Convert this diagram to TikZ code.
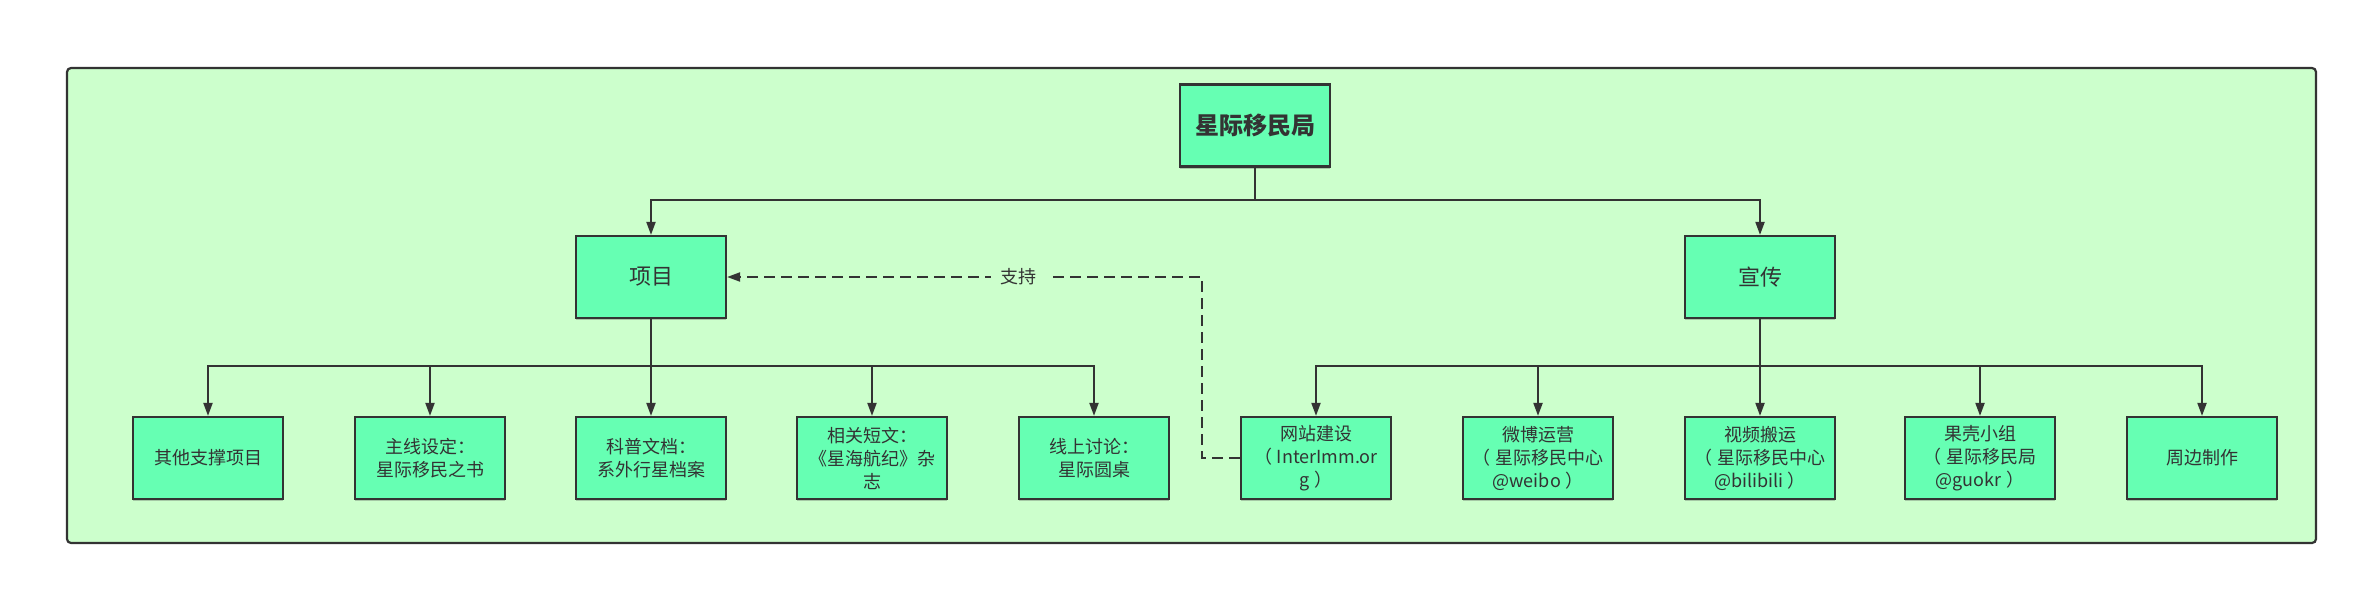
\documentclass[tikz,border=0pt]{standalone}
\usepackage{fontspec}
\setmainfont{Noto Sans CJK SC}
\usetikzlibrary{arrows.meta,shadows,calc}
\definecolor{boxfill}{HTML}{66FFB3}
\definecolor{framefill}{HTML}{CCFFCC}
\definecolor{ink}{HTML}{333333}
\newcommand{\lp}{（\hspace{0.25em}}
\newcommand{\rp}{\hspace{0.25em}）}
\begin{document}
\begin{tikzpicture}[x=1pt,y=-1pt,
  box/.style={draw=ink,fill=boxfill,line width=2.2pt,minimum width=150pt,minimum height=82pt,
    inner sep=2pt,align=center,text=ink,font=\fontsize{18}{23}\selectfont,
    drop shadow={shadow xshift=0pt,shadow yshift=-2pt,opacity=0.3,fill=black!70}},
  midbox/.style={box,font=\fontsize{22}{26}\selectfont},
  topbox/.style={box,font=\fontsize{24}{28}\selectfont\bfseries},
  conn/.style={draw=ink,line width=2pt},
  arr/.style={conn,-{Triangle[length=13pt,width=9pt]}},
  dsh/.style={arr,dash pattern=on 11pt off 6pt},
  lbl/.style={fill=framefill,text=ink,font=\fontsize{18}{22}\selectfont,inner xsep=10pt,inner ysep=2pt},
]
\useasboundingbox (0,0) rectangle (2367,595);
\fill[white] (0,0) rectangle (2367,595);
\draw[draw=ink,fill=framefill,line width=2.2pt,rounded corners=4pt] (67,68) rectangle (2316,543);

\node[topbox] (top) at (1255,125.5) {星际移民局};
\node[midbox] (xm) at (651,277) {项目};
\node[midbox] (xc) at (1760,277) {宣传};

\node[box] (a1) at (208,458) {其他支撑项目};
\node[box] (a2) at (430,458) {主线设定：\\星际移民之书};
\node[box] (a3) at (651,458) {科普文档：\\系外行星档案};
\node[box] (a4) at (872,458) {相关短文：\\《星海航纪》杂\\志};
\node[box] (a5) at (1094,458) {线上讨论：\\星际圆桌};

\node[box] (b1) at (1316,458) {网站建设\\\lp InterImm.or\\g\rp};
\node[box] (b2) at (1538,458) {微博运营\\\lp 星际移民中心\\@weibo\rp};
\node[box] (b3) at (1760,458) {视频搬运\\\lp 星际移民中心\\@bilibili\rp};
\node[box] (b4) at (1980,458) {果壳小组\\\lp 星际移民局\\@guokr\rp};
\node[box] (b5) at (2202,458) {周边制作};

\coordinate (y0) at (0,200);
\coordinate (y1) at (0,366);
\coordinate (bend) at (1202,0);

\draw[conn] (top.south) -- (top.south |- y0) coordinate (j0);
\draw[arr] (j0) -| (xm.north);
\draw[arr] (j0) -| (xc.north);

\draw[conn] (xm.south) -- (xm.south |- y1) coordinate (j1);
\foreach \n in {a1,a2,a3,a4,a5} \draw[arr] (j1) -| (\n.north);

\draw[conn] (xc.south) -- (xc.south |- y1) coordinate (j2);
\foreach \n in {b1,b2,b3,b4,b5} \draw[arr] (j2) -| (\n.north);

\draw[dsh] (b1.west) -| (bend |- xm.east) -- node[lbl,pos=0.386] (sup) {支持} (xm.east);
\end{tikzpicture}
\end{document}
